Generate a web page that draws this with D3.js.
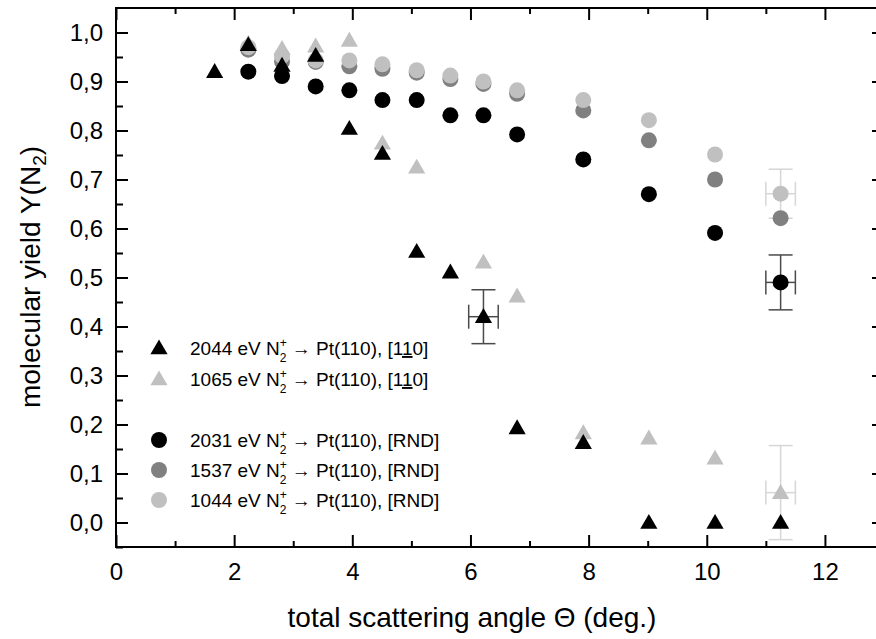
<!DOCTYPE html>
<html>
<head>
<meta charset="utf-8">
<script src="https://d3js.org/d3.v7.min.js"></script>
<style>
  body { margin: 0; background: #fff; }
  text { font-family: "Liberation Sans", Arial, sans-serif; fill: #000; }
</style>
</head>
<body>
<div id="chart"></div>
<script>
// angles (deg.) and yields for each series
var angles = [1.67, 2.24, 2.81, 3.38, 3.95, 4.51, 5.09, 5.66, 6.22, 6.79, 7.91, 9.02, 10.14, 11.25];

var tri2044 = [0.92, 0.975, 0.933, 0.953, 0.804, 0.753, 0.553, 0.511, 0.42, 0.193, 0.163, 0.0, 0.0, 0.0];
var tri1065 = [null, 0.978, 0.967, 0.972, 0.984, 0.774, 0.725, null, 0.531, 0.462, 0.183, 0.172, 0.131, 0.061];
var rnd2031 = [null, 0.92, 0.911, 0.89, 0.882, 0.862, 0.862, 0.831, 0.831, 0.792, 0.741, 0.67, 0.591, 0.49];
var rnd1537 = [null, 0.965, 0.941, 0.94, 0.931, 0.926, 0.918, 0.905, 0.895, 0.875, 0.841, 0.78, 0.70, 0.621];
var rnd1044 = [null, 0.97, 0.952, 0.943, 0.943, 0.935, 0.923, 0.912, 0.9, 0.882, 0.862, 0.821, 0.751, 0.671];

// error bars: [angle, yield, x error, y error]
var errBlackTri = [6.22, 0.42, 0.25, 0.055];
var errBlackCirc = [11.25, 0.49, 0.25, 0.056];
var errLightCirc = [11.25, 0.671, 0.25, 0.05];
var errLightTri = [11.25, 0.061, 0.25, 0.096];

var xTicks = [0, 2, 4, 6, 8, 10, 12];
var yTicks = [0, 0.1, 0.2, 0.3, 0.4, 0.5, 0.6, 0.7, 0.8, 0.9, 1.0];

var legendLabels = ["2044", "1065", "2031", "1537", "1044"];

var W = 876, H = 639;
var mLeft = 116, mRight = 884, mTop = 8, mBottom = 547;

var svg = d3.select("#chart").append("svg")
  .attr("width", W).attr("height", H);

var x = d3.scaleLinear().domain([0, 13]).range([mLeft, mRight]);
var y = d3.scaleLinear().domain([-0.05, 1.05]).range([mBottom, mTop]);

var comma = function(d) { return d3.format(".1f")(d).replace(".", ","); };

// minor tick positions
var xMinor = d3.range(1, 13, 2);
var yMinor = d3.range(-0.05, 1.05, 0.1).map(function(v) { return +v.toFixed(2); });

// axes, ticks inside the frame
svg.append("g").attr("transform", "translate(0," + mBottom + ")")
  .call(d3.axisBottom(x).tickValues(xTicks).tickSizeInner(-12).tickSizeOuter(0).tickPadding(16));
svg.append("g").attr("transform", "translate(0," + mBottom + ")")
  .call(d3.axisBottom(x).tickValues(xMinor).tickSizeInner(-6).tickSizeOuter(0).tickFormat(""));
svg.append("g").attr("transform", "translate(0," + mTop + ")")
  .call(d3.axisTop(x).tickValues(xTicks).tickSizeInner(-12).tickSizeOuter(0).tickFormat(""));
svg.append("g").attr("transform", "translate(0," + mTop + ")")
  .call(d3.axisTop(x).tickValues(xMinor).tickSizeInner(-6).tickSizeOuter(0).tickFormat(""));

svg.append("g").attr("transform", "translate(" + mLeft + ",0)")
  .call(d3.axisLeft(y).tickValues(yTicks).tickSizeInner(-12).tickSizeOuter(0).tickPadding(13).tickFormat(comma));
svg.append("g").attr("transform", "translate(" + mLeft + ",0)")
  .call(d3.axisLeft(y).tickValues(yMinor).tickSizeInner(-7).tickSizeOuter(0).tickFormat(""));
svg.append("g").attr("transform", "translate(" + mRight + ",0)")
  .call(d3.axisRight(y).tickValues(yTicks).tickSizeInner(-12).tickSizeOuter(0).tickFormat(""));
svg.append("g").attr("transform", "translate(" + mRight + ",0)")
  .call(d3.axisRight(y).tickValues(yMinor).tickSizeInner(-7).tickSizeOuter(0).tickFormat(""));

svg.selectAll(".domain").remove();
svg.selectAll(".tick line").attr("stroke", "#000").attr("stroke-width", 2);
svg.selectAll(".tick text").attr("font-size", 24).attr("font-family", "Liberation Sans, Arial, sans-serif");

svg.append("rect")
  .attr("x", mLeft).attr("y", mTop)
  .attr("width", mRight - mLeft).attr("height", mBottom - mTop)
  .attr("fill", "none").attr("stroke", "#000").attr("stroke-width", 2);

// axis titles
svg.append("text")
  .attr("x", 472).attr("y", 627)
  .attr("text-anchor", "middle").attr("font-size", 28)
  .text("total scattering angle \u0398 (deg.)");

var yl = svg.append("text")
  .attr("transform", "translate(40,277) rotate(-90)")
  .attr("text-anchor", "middle").attr("font-size", 28);
yl.append("tspan").text("molecular yield Y(N");
yl.append("tspan").attr("font-size", 19).attr("dy", 6).text("2");
yl.append("tspan").attr("dy", -6).text(")");

// markers
var triPath = "M0,-8.6L8.6,6.3L-8.6,6.3Z";

function pts(vals) {
  return angles.map(function(a, i) { return {a: a, v: vals[i]}; })
    .filter(function(d) { return d.v !== null; });
}

function errBar(e, color, width) {
  var g = svg.append("g").attr("stroke", color).attr("stroke-width", width).attr("fill", "none");
  var cx = x(e[0]), cy = y(e[1]);
  var x0 = x(e[0] - e[2]), x1 = x(e[0] + e[2]);
  var y0 = y(e[1] + e[3]), y1 = y(e[1] - e[3]);
  g.append("line").attr("x1", cx).attr("x2", cx).attr("y1", y0).attr("y2", y1);
  g.append("line").attr("x1", x0).attr("x2", x1).attr("y1", cy).attr("y2", cy);
  g.append("line").attr("x1", cx - 12).attr("x2", cx + 12).attr("y1", y0).attr("y2", y0);
  g.append("line").attr("x1", cx - 12).attr("x2", cx + 12).attr("y1", y1).attr("y2", y1);
  g.append("line").attr("x1", x0).attr("x2", x0).attr("y1", cy - 12).attr("y2", cy + 12);
  g.append("line").attr("x1", x1).attr("x2", x1).attr("y1", cy - 12).attr("y2", cy + 12);
}

function circles(vals, color) {
  svg.append("g").selectAll("circle").data(pts(vals)).join("circle")
    .attr("cx", function(d) { return x(d.a); })
    .attr("cy", function(d) { return y(d.v); })
    .attr("r", 8).attr("fill", color);
}
function triangles(vals, color) {
  svg.append("g").selectAll("path").data(pts(vals)).join("path")
    .attr("d", triPath)
    .attr("transform", function(d) { return "translate(" + x(d.a) + "," + y(d.v) + ")"; })
    .attr("fill", color);
}

errBar(errLightCirc, "#d6d6d6", 1.5);
errBar(errLightTri, "#d6d6d6", 1.5);
circles(rnd1537, "#808080");
circles(rnd1044, "#c0c0c0");
triangles(tri1065, "#c0c0c0");
errBar(errBlackCirc, "#4a4a4a", 1.5);
errBar(errBlackTri, "#4a4a4a", 1.5);
circles(rnd2031, "#000");
triangles(tri2044, "#000");

// legend
var legend = [
  {e: legendLabels[0], c: "#000", s: "tri", y: 348, tail: "110"},
  {e: legendLabels[1], c: "#c0c0c0", s: "tri", y: 379, tail: "110"},
  {e: legendLabels[2], c: "#000", s: "circ", y: 440, tail: "RND"},
  {e: legendLabels[3], c: "#808080", s: "circ", y: 470, tail: "RND"},
  {e: legendLabels[4], c: "#c0c0c0", s: "circ", y: 500, tail: "RND"}
];

legend.forEach(function(l) {
  if (l.s === "tri") {
    svg.append("path").attr("d", triPath)
      .attr("transform", "translate(159," + l.y + ")").attr("fill", l.c);
  } else {
    svg.append("circle").attr("cx", 159).attr("cy", l.y).attr("r", 8).attr("fill", l.c);
  }
  var t = svg.append("text").attr("x", 190).attr("y", l.y + 7).attr("font-size", 19);
  t.append("tspan").text(l.e + " eV N");
  t.append("tspan").attr("font-size", 12).attr("dy", -8).text("+");
  t.append("tspan").attr("font-size", 12).attr("dx", -7).attr("dy", 15).text("2");
  t.append("tspan").attr("dy", -7).text(" \u2192 Pt(110), [");
  if (l.tail === "110") {
    t.append("tspan").text("1");
    t.append("tspan").attr("text-decoration", "underline").text("1");
    t.append("tspan").text("0]");
  } else {
    t.append("tspan").text("RND]");
  }
});
</script>
</body>
</html>
